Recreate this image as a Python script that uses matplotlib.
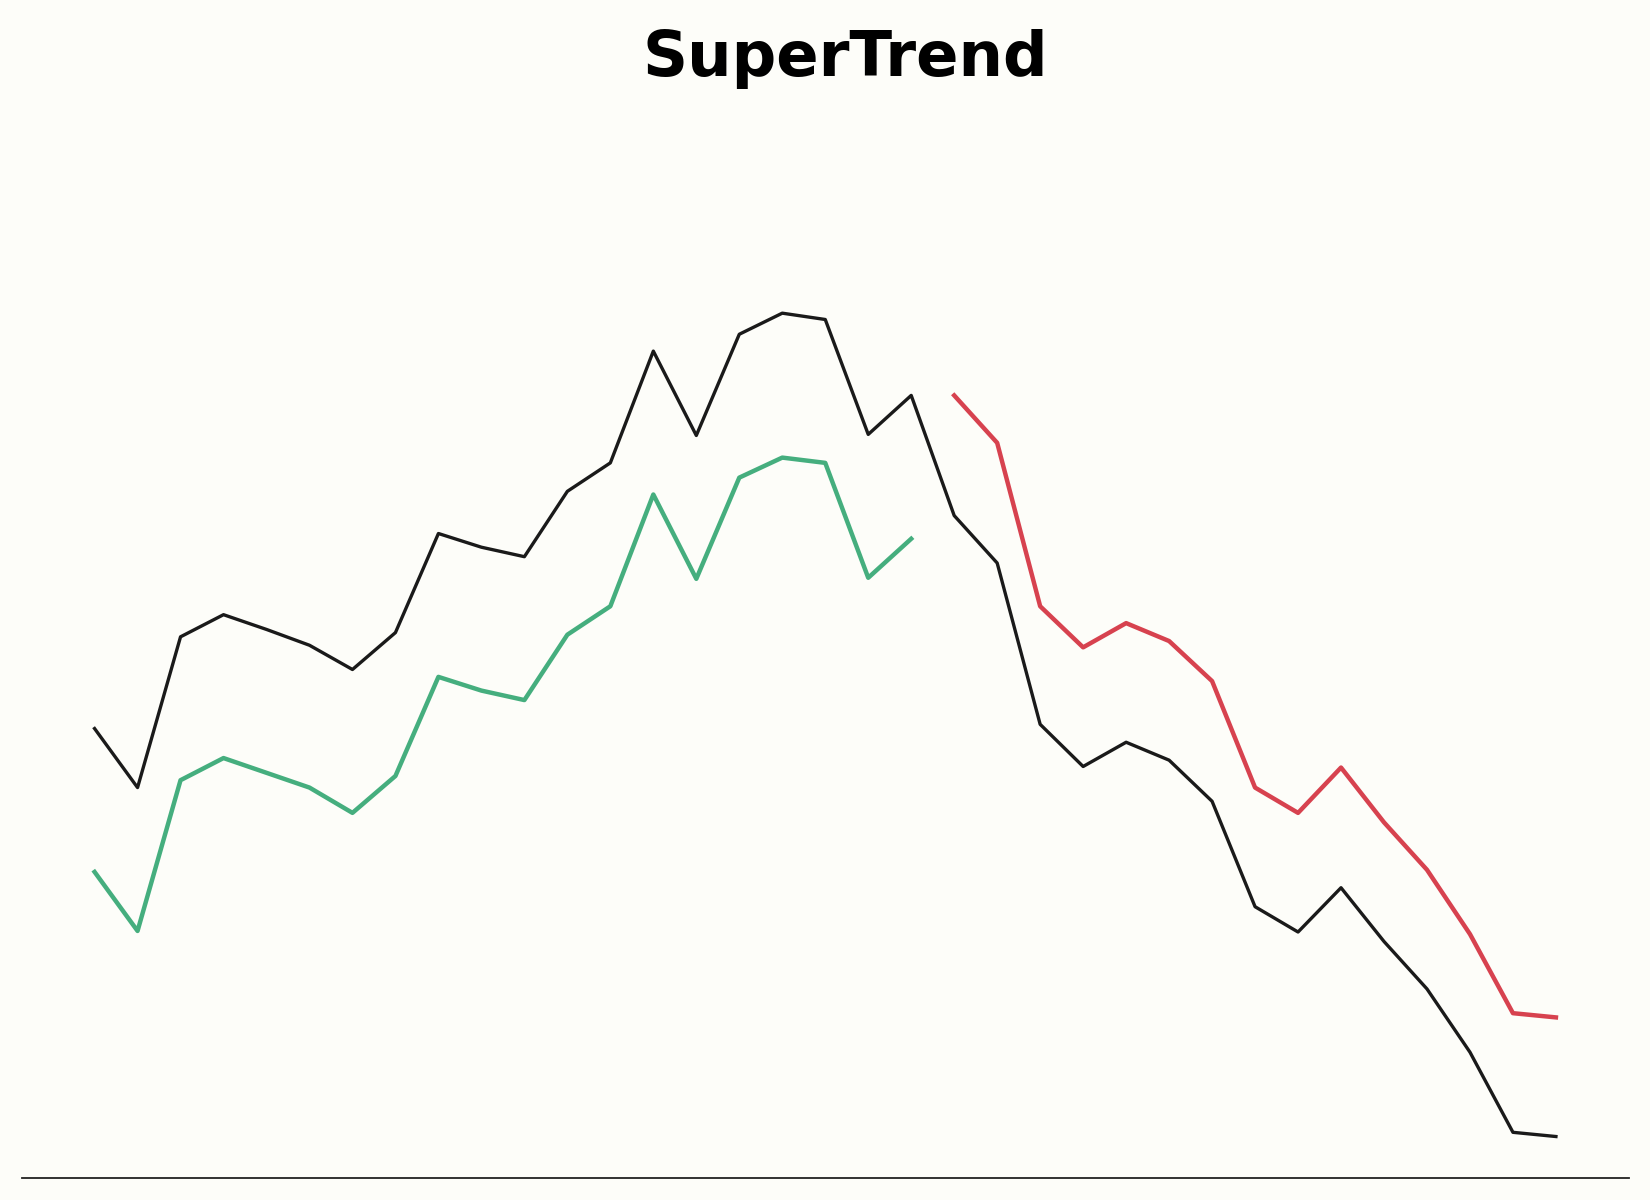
import numpy as np
import matplotlib
matplotlib.use("Agg")
import matplotlib.pyplot as plt

# Close price series
close = [50.8, 45.2, 59.5, 61.6, 60.2, 58.7, 56.4, 59.9, 69.3, 68.0, 67.1, 73.3,
         76.0, 86.6, 78.6, 88.2, 90.2, 89.6, 78.7, 82.4, 71.0, 66.5, 51.2, 47.2,
         49.5, 47.8, 43.9, 33.9, 31.5, 35.7, 30.6, 26.1, 20.1, 12.5, 12.1]

# SuperTrend support (uptrend) band - first segment
st_up = [37.2, 31.6, 45.9, 48.0, 46.6, 45.2, 42.8, 46.3, 55.7, 54.4, 53.5, 59.7,
         62.4, 73.0, 65.0, 74.6, 76.5, 76.0, 65.1, 68.8]

# SuperTrend resistance (downtrend) band - second segment
st_down = [82.4, 77.9, 62.4, 58.5, 60.8, 59.1, 55.3, 45.2, 42.8, 47.1, 41.9,
           37.4, 31.3, 23.8, 23.4]

n = len(close)
x = np.arange(n)
up = np.full(n, np.nan)
up[:len(st_up)] = st_up
down = np.full(n, np.nan)
down[n - len(st_down):] = st_down

bg = "#FDFDF9"
fig = plt.figure(figsize=(16.5, 12), dpi=100, facecolor=bg)
ax = fig.add_axes([21.5 / 1650, 1 - 1177.7 / 1200, (1629 - 21.5) / 1650, (1177.7 - 272) / 1200])
ax.set_facecolor(bg)

ax.plot(x, close, color="#1a1a1a", lw=2.4)
ax.plot(x, up, color="#45AE7E", lw=3.2)
ax.plot(x, down, color="#D7424F", lw=3.2)

ax.margins(x=0.05, y=0.05)
for s in ["top", "right", "left"]:
    ax.spines[s].set_visible(False)
ax.spines["bottom"].set_color("#222222")
ax.spines["bottom"].set_linewidth(1.3)
ax.set_xticks([])
ax.set_yticks([])

fig.text(0.5124, 1 - 76 / 1200, "SuperTrend", ha="center", va="baseline",
         fontsize=45, fontweight="bold", color="black", family="DejaVu Sans")

fig.savefig("out.png", dpi=100, facecolor=bg)
